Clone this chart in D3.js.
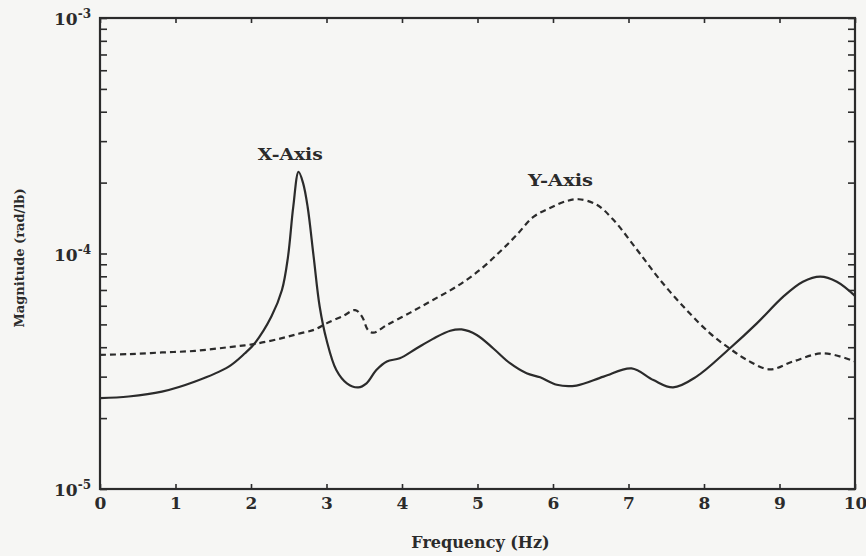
<!DOCTYPE html>
<html>
<head>
<meta charset="utf-8">
<script src="https://cdn.jsdelivr.net/npm/d3@7"></script>
<style>
  body { margin: 0; background: #f6f6f4; }
  svg { display: block; }
  text { font-family: "DejaVu Serif", serif; font-weight: bold; fill: #2b2b2b; }
</style>
</head>
<body>
<svg width="866" height="556"></svg>
<script>
// X-Axis response (solid line)
var freqX = [0, 0.38, 0.82, 1.26, 1.70, 1.92, 2.05, 2.27, 2.41, 2.49, 2.56, 2.63, 2.69, 2.75, 2.83, 2.91,
  3.00, 3.13, 3.27, 3.42, 3.53, 3.66, 3.80, 3.97, 4.19, 4.41, 4.64, 4.79, 4.99, 5.21, 5.43, 5.65,
  5.83, 6.05, 6.31, 6.67, 7.04, 7.33, 7.59, 7.90, 8.34, 8.70, 9.05, 9.31, 9.54, 9.76, 10.0];
var magX = [2.43e-5, 2.47e-5, 2.59e-5, 2.86e-5, 3.30e-5, 3.77e-5, 4.16e-5, 5.40e-5, 7.00e-5, 9.68e-5, 1.58e-4, 2.22e-4, 1.99e-4, 1.58e-4, 9.68e-5, 5.94e-5,
  4.30e-5, 3.20e-5, 2.81e-5, 2.70e-5, 2.81e-5, 3.20e-5, 3.48e-5, 3.59e-5, 3.95e-5, 4.34e-5, 4.70e-5, 4.76e-5, 4.51e-5, 3.95e-5, 3.42e-5, 3.10e-5,
  2.98e-5, 2.77e-5, 2.75e-5, 3.00e-5, 3.25e-5, 2.90e-5, 2.70e-5, 3.00e-5, 3.95e-5, 5.05e-5, 6.56e-5, 7.59e-5, 7.98e-5, 7.59e-5, 6.61e-5];

// Y-Axis response (dashed line)
var freqY = [0, 0.38, 0.82, 1.26, 1.70, 2.05, 2.41, 2.65, 2.85, 3.00, 3.22, 3.38, 3.47, 3.55, 3.62, 3.80,
  4.11, 4.41, 4.72, 5.03, 5.30, 5.52, 5.74, 5.96, 6.18, 6.34, 6.58, 6.80, 7.11, 7.42, 7.77, 8.08,
  8.34, 8.57, 8.87, 9.18, 9.58, 10.0];
var magY = [3.71e-5, 3.74e-5, 3.80e-5, 3.86e-5, 4.00e-5, 4.13e-5, 4.37e-5, 4.58e-5, 4.76e-5, 5.05e-5, 5.43e-5, 5.75e-5, 5.40e-5, 4.73e-5, 4.61e-5, 4.97e-5,
  5.61e-5, 6.35e-5, 7.23e-5, 8.51e-5, 1.02e-4, 1.20e-4, 1.43e-4, 1.56e-4, 1.67e-4, 1.70e-4, 1.61e-4, 1.39e-4, 1.04e-4, 7.71e-5, 5.75e-5, 4.58e-5,
  3.95e-5, 3.53e-5, 3.22e-5, 3.48e-5, 3.77e-5, 3.48e-5];

var xTicks = [0, 1, 2, 3, 4, 5, 6, 7, 8, 9, 10];
var decades = [1e-5, 1e-4, 1e-3];
var decadeExp = ["-5", "-4", "-3"];

// curve labels: text, frequency where the text starts, magnitude at baseline
var labelText = ["X-Axis", "Y-Axis"];
var labelFreq = [2.09, 5.67];
var labelMag = [2.49e-4, 1.94e-4];

var ink = "#2b2b2b";
var svg = d3.select("svg"),
    margin = {top: 18, right: 11, bottom: 67, left: 100},
    width = +svg.attr("width") - margin.left - margin.right,
    height = +svg.attr("height") - margin.top - margin.bottom;

var x = d3.scaleLinear().domain([0, 10]).range([0, width]),
    y = d3.scaleLog().domain([1e-5, 1e-3]).range([height, 0]);

// minor ticks at 2..9 of each decade
var minorTicks = [];
[1e-5, 1e-4].forEach(function(d) {
  for (var k = 1; k <= 9; k++) minorTicks.push(d * k);
});
minorTicks.push(1e-3);

var g = svg.append("g")
  .attr("transform", "translate(" + margin.left + "," + margin.top + ")");

// axes, ticks pointing inward
var xAxisB = d3.axisBottom(x).tickValues(xTicks).tickSize(-5).tickPadding(8).tickFormat(d3.format("d"));
var xAxisT = d3.axisTop(x).tickValues(xTicks).tickSize(-5).tickFormat("");
var yAxisL = d3.axisLeft(y).tickValues(minorTicks).tickSize(-7).tickFormat("");
var yAxisR = d3.axisRight(y).tickValues(minorTicks).tickSize(-7).tickFormat("");

var gx = g.append("g").attr("transform", "translate(0," + height + ")").call(xAxisB);
g.append("g").call(xAxisT);
g.append("g").call(yAxisL);
g.append("g").attr("transform", "translate(" + width + ",0)").call(yAxisR);

g.selectAll(".domain").remove();
g.selectAll(".tick line").attr("stroke", ink).attr("stroke-width", 1.6);
gx.selectAll(".tick text").attr("font-size", 17).attr("font-family", "DejaVu Serif").attr("fill", ink);

// frame
g.append("rect")
  .attr("width", width)
  .attr("height", height)
  .attr("fill", "none")
  .attr("stroke", ink)
  .attr("stroke-width", 2.2);

// decade labels 10^n
var dl = g.selectAll(".dlabel")
  .data(decades)
  .enter().append("text")
  .attr("class", "dlabel")
  .attr("text-anchor", "end")
  .attr("x", -9)
  .attr("y", function(d) { return y(d) + 7; })
  .attr("font-size", 17);
dl.append("tspan").text("10");
dl.append("tspan")
  .attr("dy", -7)
  .attr("font-size", 12)
  .text(function(d, i) { return decadeExp[i]; });

// curves
var line = d3.line()
  .x(function(d) { return x(d[0]); })
  .y(function(d) { return y(d[1]); })
  .curve(d3.curveCatmullRom);

g.append("path")
  .datum(d3.zip(freqX, magX))
  .attr("fill", "none")
  .attr("stroke", ink)
  .attr("stroke-width", 2.2)
  .attr("d", line);

g.append("path")
  .datum(d3.zip(freqY, magY))
  .attr("fill", "none")
  .attr("stroke", ink)
  .attr("stroke-width", 2.2)
  .attr("stroke-dasharray", "6,4")
  .attr("d", line);

// curve labels
g.selectAll(".clabel")
  .data(labelText)
  .enter().append("text")
  .attr("class", "clabel")
  .attr("text-anchor", "start")
  .attr("x", function(d, i) { return x(labelFreq[i]); })
  .attr("y", function(d, i) { return y(labelMag[i]); })
  .attr("font-size", 17)
  .attr("textLength", 65)
  .attr("lengthAdjust", "spacingAndGlyphs")
  .text(function(d) { return d; });

// axis titles
svg.append("text")
  .attr("text-anchor", "middle")
  .attr("x", margin.left + x(5) + 3)
  .attr("y", 548)
  .attr("font-size", 16)
  .text("Frequency (Hz)");

svg.append("text")
  .attr("text-anchor", "middle")
  .attr("transform", "translate(24,258)rotate(-90)")
  .attr("font-size", 13)
  .text("Magnitude (rad/lb)");
</script>
</body>
</html>
